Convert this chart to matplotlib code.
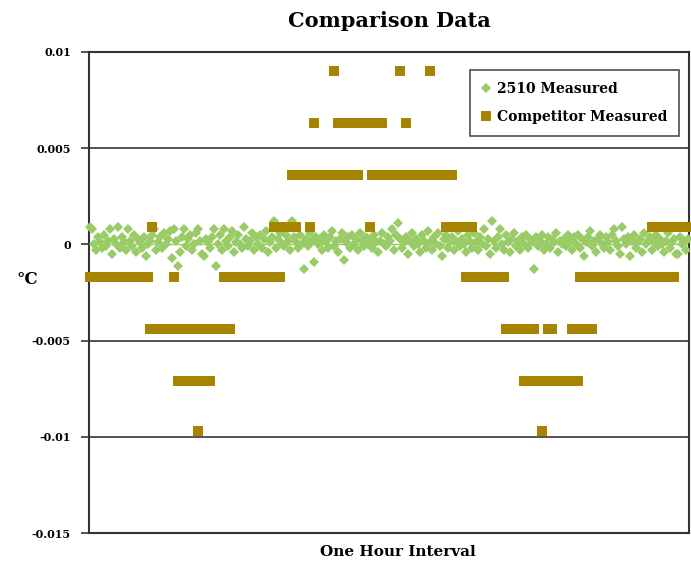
import matplotlib

matplotlib.use("Agg")
import matplotlib.pyplot as plt
import numpy as np

# 2510 readings, in units of 1e-4 degC, one per sample across the hour
measured_2510 = [
    9, 8, 0, -3, 4, 1, -2, 5, -1, 2, 8, -5, 3, 0, 9, -2, 4, 1, -3, 8,
    2, -1, 5, -4, 3, 1, -2, 4, -6, 0, 2, 5, 8, -3, 1, 4, -2, 6, 0, 3,
    7, -7, 8, 2, -11, -4, 4, 8, -1, 3, 5, -3, 0, 6, 8, 2, -5, -6, 3, 1,
    -2, 4, 8, -11, 0, 5, -3, 8, 2, -1, 4, 7, -4, 1, 5, 0, -2, 9, 3, -1,
    2, 6, -3, 4, 0, 5, -2, 3, 7, -4, 1, 4, 12, -2, 3, 6, 0, -1, 5, 2,
    -3, 12, 4, 1, -2, 5, 0, -13, 3, -1, 6, 2, -9, 4, 0, 3, -3, 5, 1, -2,
    4, 7, -1, 2, -4, 3, 6, -8, 1, 4, -2, 5, 0, 3, -3, 6, 2, -1, 4, 0,
    3, -2, 5, 1, -4, 2, 6, 0, -1, 4, 2, 8, -3, 5, 11, 3, -2, 1, 4, -5,
    2, 6, -1, 3, 0, -4, 5, 2, -2, 7, 1, -3, 4, 0, 6, -1, -6, 3, 5, -2,
    1, 4, -3, 2, 7, -1, 3, 0, -4, 5, 2, -2, 6, 1, -3, 4, 0, 8, -1, 3,
    -5, 12, 2, -2, 4, 8, 0, -3, 5, 1, -4, 3, 6, -1, 2, -3, 4, 0, 5, -2,
    3, 1, -13, 4, -1, 2, 5, -3, 0, 4, -2, 3, 1, 6, -4, 2, 0, 3, -1, 5,
    2, -3, 4, 0, 5, -2, 3, -6, 1, 4, 7, -1, 2, -4, 3, 5, 0, -2, 4, 1,
    -3, 5, 8, 2, -1, -5, 9, 3, 0, 4, -6, 2, 5, -2, 1, 3, -4, 6, 0, 2,
    4, -3, 1, 5, -1, 3, 0, -4, 2, 6, -2, 1, 3, -5, -5, 4, 0, 2, -3, 3,
]

# competitor readings are quantized to a few steps; one level code per sample
comp_levels = [0.0090, 0.0063, 0.0036, 0.0009, -0.0017, -0.0044, -0.0071, -0.0097]
comp_codes = (
    "4444444444" "4444444444" "4444444444"  # 0
    "53" "5555555555" "45"
    "6565656565" "7656566"  # 44
    "555555" "45454"
    "4444444444" "4444444444"  # 72
    "3434" "33333" "233"
    "222222" "321" "222222222"  # 104
    "02" "1212121" "2222"
    "11111" "3" "2121212"  # 135
    "2222222" "0221" "2222222222" "2"
    "0" "2222222" "32323"  # 170
    "33333" "43434" "4444444444" "44444"
    "555555555" "6565656" "66766"  # 208
    "565" "666666666" "56564" "555545"
    "4444444444" "4444444444" "444444444"  # 252
    "3434343434343" "333333"
)

yticks = [0.01, 0.005, 0, -0.005, -0.01, -0.015]
ytick_labels = ["0.01", "0.005", "0", "-0.005", "-0.01", "-0.015"]

GREEN = "#99cc66"
GOLD = "#a68400"
FONT = "DejaVu Serif"

green = np.array(measured_2510) * 1e-4
comp = np.array([comp_levels[int(c)] for c in comp_codes])
x_green = np.arange(len(green))
x_comp = np.arange(len(comp))

fig = plt.figure(figsize=(6.91, 5.62), dpi=100)
ax = fig.add_axes([89 / 691, 29 / 562, 600 / 691, 481 / 562])

for y in (0.005, -0.005, -0.01):
    ax.axhline(y, color="#333333", lw=1.2, zorder=1)
ax.axhline(0, color=GREEN, lw=1.0, zorder=1)

ax.plot(x_green, green, ls="none", marker="D", ms=5.4, mfc=GREEN, mec=GREEN,
        mew=0, label="2510 Measured", zorder=3, clip_on=False)
ax.plot(x_comp, comp, ls="none", marker="s", ms=6.5, mfc=GOLD, mec=GOLD,
        mew=0, label="Competitor Measured", zorder=4, clip_on=False)

ax.set_xlim(-0.5, len(green) - 0.5)
ax.set_ylim(-0.015, 0.01)
ax.set_xticks([])
ax.set_yticks(yticks)
ax.set_yticklabels(ytick_labels, fontfamily=FONT, fontweight="bold", fontsize=8)
ax.tick_params(axis="y", direction="out", length=6, width=1.2, color="#333333", pad=7)
for s in ax.spines.values():
    s.set_color("#333333")
    s.set_linewidth(1.5)

fig.text(389 / 691, 1 - 21 / 562, "Comparison Data", ha="center", va="center",
         fontfamily=FONT, fontweight="bold", fontsize=15)
fig.text(27 / 691, 1 - 280 / 562, "°C", ha="center", va="center",
         fontfamily=FONT, fontweight="bold", fontsize=12)
fig.text(398 / 691, 1 - 552 / 562, "One Hour Interval", ha="center", va="center",
         fontfamily=FONT, fontweight="bold", fontsize=11)

leg = ax.legend(loc="upper right", bbox_to_anchor=(590 / 600, 1 - 18 / 481),
                prop={"family": FONT, "weight": "bold", "size": 10},
                frameon=True, fancybox=False, edgecolor="#222222",
                handlelength=0.7, handletextpad=0.4, borderpad=0.85,
                labelspacing=1.0, borderaxespad=0, markerscale=1.0)
leg.get_frame().set_linewidth(1.2)

fig.savefig("out.png", dpi=100)
plt.close(fig)
